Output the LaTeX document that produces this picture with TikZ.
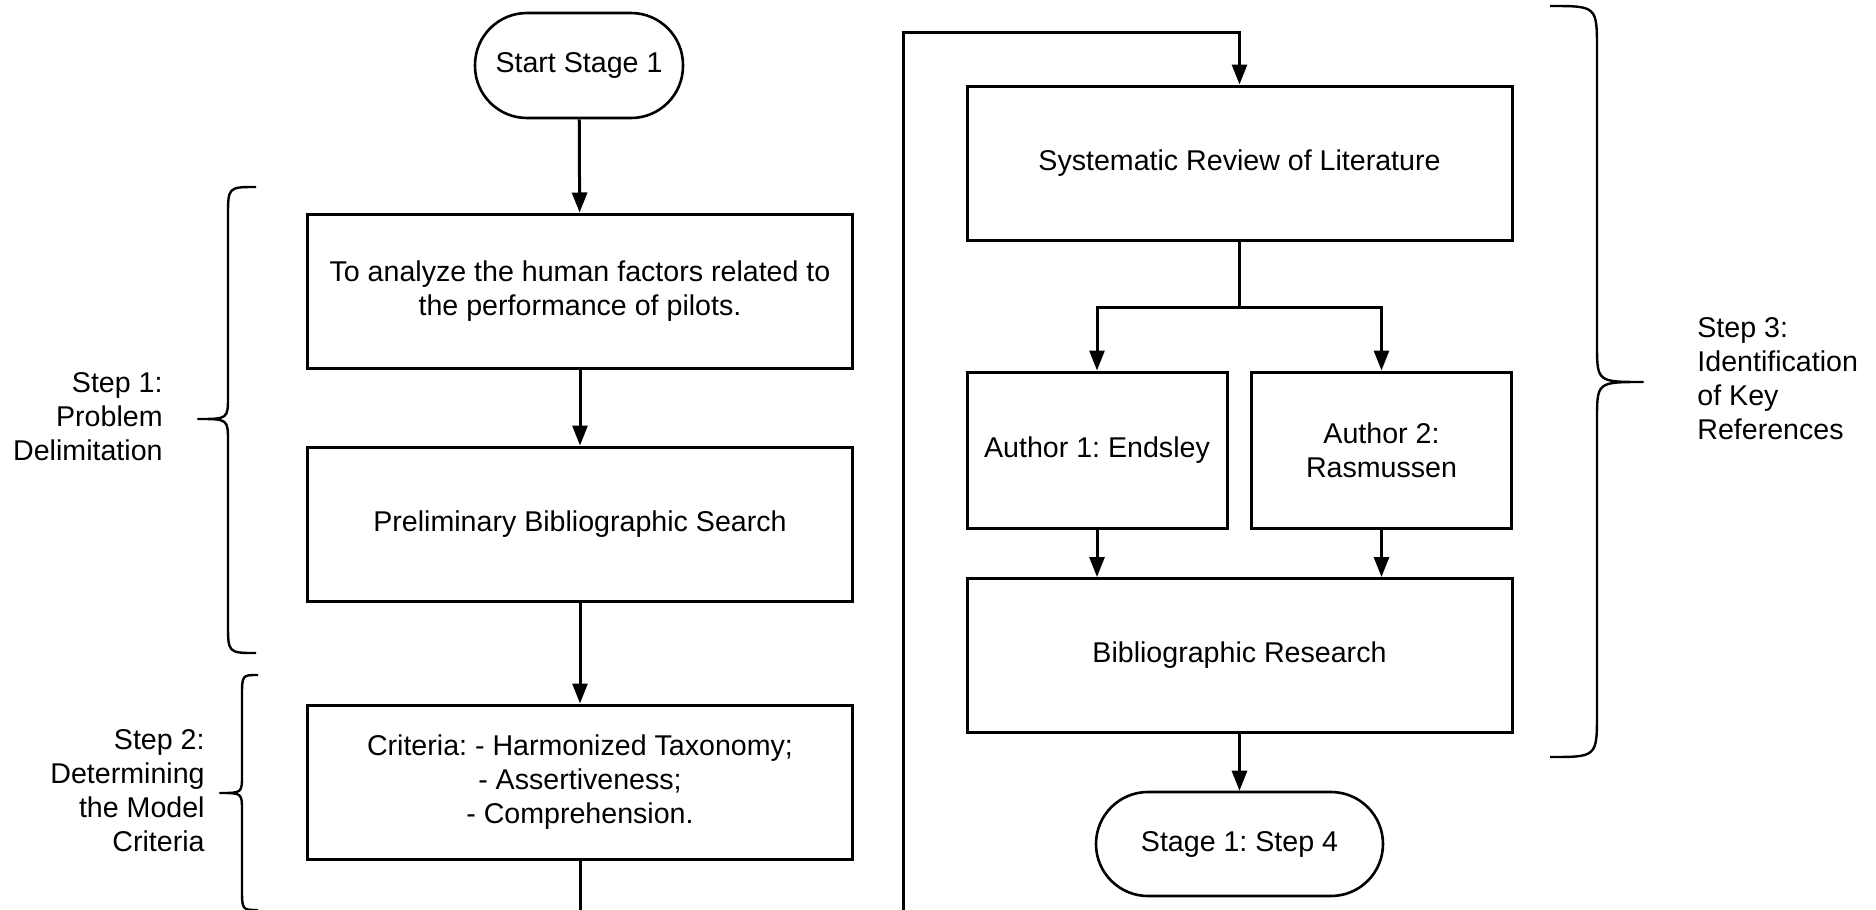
\documentclass[tikz,border=0pt]{standalone}
\usepackage{fontspec}
\setmainfont{Liberation Sans}
\usetikzlibrary{arrows.meta}
\frenchspacing
\newcommand\flowfont{\frenchspacing\fontsize{14.3pt}{17pt}\selectfont}
\begin{document}
\begin{tikzpicture}[x=0.5pt,y=-0.5pt,
  box/.style={draw, line width=1.5pt, inner sep=0pt, align=center, font=\flowfont},
  wide/.style={box, minimum width=272.5pt, minimum height=77pt},
  narrow/.style={box, minimum width=130pt, minimum height=78pt},
  terminal/.style={draw, line width=1.3pt, rounded corners=26pt, inner sep=0pt, font=\flowfont},
  label/.style={inner sep=0pt, font=\flowfont},
  link/.style={line width=1.5pt},
  arr/.style={link, -{Triangle[length=10pt,width=7.5pt]}},
  brace/.style={line width=1.2pt, line join=round}
]
\clip (0,0) rectangle (1876,910);

% left column
\node[terminal, minimum width=104pt, minimum height=52.5pt] (start) at (579,65.5) {Start Stage 1};
\node[wide] (goal) at (580,291) {To analyze the human factors related to\\the performance of pilots.};
\node[wide] (prelim) at (580,524) {Preliminary Bibliographic Search};
\node[wide] (crit) at (580,782) {Criteria: - Harmonized Taxonomy;\\- Assertiveness;\\- Comprehension.};

% right column
\node[wide] (sys) at (1239.5,163) {Systematic Review of Literature};
\node[narrow] (a1) at (1097,450) {Author 1: Endsley};
\node[narrow] (a2) at (1381.5,450) {Author 2:\\Rasmussen};
\node[wide] (bib) at (1239.5,655.5) {Bibliographic Research};
\node[terminal, minimum width=143.5pt, minimum height=52pt] (next) at (1239.5,844) {Stage 1: Step 4};

% side labels
\node[label, align=right, anchor=east] (s1) at (163,417) {Step 1:\\Problem\\Delimitation};
\node[label, align=right, anchor=east] (s2) at (205,791) {Step 2:\\Determining\\the Model\\Criteria};
\node[label, align=left, anchor=west] (s3) at (1697,379) {Step 3:\\Identification\\of Key\\References};

% connectors
\draw[arr] (start) -- (goal);
\draw[arr] (goal) -- (prelim);
\draw[arr] (prelim) -- (crit);
\coordinate (out) at (580,925);
\draw[link] (crit) -- (out);
\coordinate (in) at (903,925);
\coordinate (corner) at (903,32);
\draw[arr] (in) -- (corner) -| (sys.north);
\coordinate (split) at (1239.5,307);
\draw[link] (sys) -- (split);
\draw[arr] (split) -| (a1.north);
\draw[arr] (split) -| (a2.north);
\draw[arr] (a1.south) -- (a1.south |- bib.north);
\draw[arr] (a2.south) -- (a2.south |- bib.north);
\draw[arr] (bib) -- (next);

% braces
\draw[brace] (256,187) .. controls (228,187) .. (228,217) -- (228,396)
  .. controls (228,419) .. (198,419) .. controls (228,419) .. (228,442)
  -- (228,623) .. controls (228,653) .. (256,653);
\draw[brace] (258,675) .. controls (242,675) .. (242,697) -- (242,775)
  .. controls (242,793) .. (220,793) .. controls (242,793) .. (242,811)
  -- (242,888) .. controls (242,910) .. (258,910);
\draw[brace] (1550,6) .. controls (1597,6) .. (1597,50) -- (1597,344)
  .. controls (1597,382) .. (1643,382) .. controls (1597,382) .. (1597,420)
  -- (1597,713) .. controls (1597,757) .. (1550,757);
\end{tikzpicture}
\end{document}
